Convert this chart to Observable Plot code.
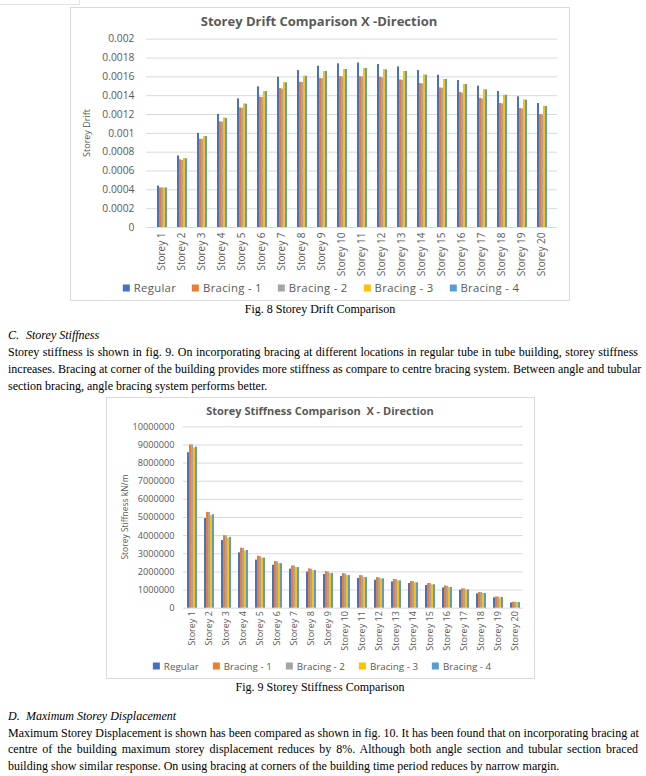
<!DOCTYPE html>
<html><head><meta charset="utf-8">
<script src="https://cdn.jsdelivr.net/npm/d3@7"></script>
<script src="https://cdn.jsdelivr.net/npm/@observablehq/plot@0.6"></script>
<style>
body{margin:0;background:#fff;width:646px;height:776px;position:relative;overflow:hidden;font-family:"Open Sans",sans-serif;}
.box{position:absolute;border:1px solid #d9d9d9;box-sizing:border-box;}
.title{position:absolute;font-weight:bold;color:#595959;font-size:11px;white-space:nowrap;transform:translate(-50%,-50%);}
.ylab{position:absolute;color:#595959;font-size:9px;white-space:nowrap;transform:translate(-50%,-50%) rotate(-90deg);}
.legend{position:absolute;display:flex;gap:16px;transform:translate(-50%,-50%);color:#595959;font-size:11px;white-space:nowrap;align-items:center;}
.legend .sw{display:inline-block;width:7px;height:7px;margin-right:4px;}
.cap{position:absolute;font-family:"Liberation Serif",serif;font-size:12px;white-space:nowrap;transform:translate(-50%,-50%);}
.para{position:absolute;left:8px;width:630px;font-family:"Liberation Serif",serif;font-size:12px;color:#000;}
.para div{text-align:justify;text-align-last:justify;white-space:nowrap;}
.para div.last{text-align-last:left;}
.plot{position:absolute;}
</style></head>
<body>
<div class="box" style="left:-2px;top:-10px;width:82px;height:15px;border-color:#e3e3e3"></div>

<div class="box" style="left:70px;top:7px;width:500px;height:294px"></div>
<div class="title" style="left:319px;top:21px;font-size:13px">Storey Drift Comparison X -Direction</div>
<div class="ylab" style="left:86px;top:133px">Storey Drift</div>
<div id="c1grid" class="plot" style="left:70px;top:28px"></div>
<div id="c1bars" class="plot" style="left:70px;top:28px"></div>
<div id="leg1" class="legend" style="left:321px;top:287px;font-size:11.3px;letter-spacing:0.3px;gap:16px"></div>
<div class="cap" style="left:320px;top:309px">Fig. 8 Storey Drift Comparison</div>

<div class="para" style="top:327px;line-height:17px">
<div class="last"><i style="display:inline-block;width:18px">C.</i><i>Storey Stiffness</i></div>
<div>Storey stiffness is shown in fig. 9. On incorporating bracing at different locations in regular tube in tube building, storey stiffness</div>
<div>increases. Bracing at corner of the building provides more stiffness as compare to centre bracing system. Between angle and tubular</div>
<div class="last">section bracing, angle bracing system performs better.</div>
</div>

<div class="box" style="left:106px;top:397px;width:429px;height:282px"></div>
<div class="title" style="left:320px;top:410px">Storey Stiffness Comparison&nbsp; X - Direction</div>
<div class="ylab" style="left:124px;top:517px;font-size:8.5px">Storey Stiffness kN/m</div>
<div id="c2grid" class="plot" style="left:106px;top:418px"></div>
<div id="c2bars" class="plot" style="left:106px;top:418px"></div>
<div id="leg2" class="legend" style="left:322px;top:666px;font-size:9.8px;gap:14px"></div>
<div class="cap" style="left:320px;top:687px">Fig. 9 Storey Stiffness Comparison</div>

<div class="para" style="top:708px;line-height:16.7px">
<div class="last"><i style="display:inline-block;width:18px">D.</i><i>Maximum Storey Displacement</i></div>
<div>Maximum Storey Displacement is shown has been compared as shown in fig. 10. It has been found that on incorporating bracing at</div>
<div>centre of the building maximum storey displacement reduces by 8%. Although both angle section and tubular section braced</div>
<div class="last">building show similar response. On using bracing at corners of the building time period reduces by narrow margin.</div>
</div>

<script>
const storeys = ["Storey 1","Storey 2","Storey 3","Storey 4","Storey 5","Storey 6","Storey 7","Storey 8","Storey 9","Storey 10","Storey 11","Storey 12","Storey 13","Storey 14","Storey 15","Storey 16","Storey 17","Storey 18","Storey 19","Storey 20"];
const series = ["Regular","Bracing - 1","Bracing - 2","Bracing - 3","Bracing - 4"];
const colors = ["#4472C4","#ED7D31","#A5A5A5","#FFC000","#5B9BD5"];

// Fig. 8 storey drift
const driftRegular = [0.00044,0.00076,0.001,0.0012,0.001366,0.001494,0.001596,0.001667,0.001713,0.001738,0.001747,0.001731,0.001706,0.001667,0.001618,0.001561,0.001501,0.001444,0.001388,0.001317];
const driftB1 = [0.00042,0.00072,0.000938,0.001122,0.00127,0.001384,0.001476,0.001543,0.001582,0.001603,0.001603,0.001596,0.001568,0.001529,0.001483,0.001434,0.001373,0.001317,0.001264,0.0012];
const driftB2 = [0.00042,0.000713,0.000935,0.00112,0.001267,0.00138,0.00147,0.00154,0.00158,0.0016,0.0016,0.00159,0.001565,0.001526,0.00148,0.001427,0.001366,0.001313,0.00126,0.001196];
const driftB3 = [0.00042,0.000733,0.000966,0.001165,0.001313,0.001444,0.00154,0.001607,0.001657,0.001678,0.001688,0.001678,0.001657,0.001621,0.001572,0.001519,0.001465,0.001405,0.001356,0.001288];
const driftB4 = [0.00042,0.00073,0.000966,0.001158,0.00131,0.001444,0.001536,0.001607,0.001657,0.001678,0.001688,0.001674,0.001657,0.001618,0.001572,0.001519,0.001462,0.001405,0.001352,0.001285];
const driftTicks = [0,0.0002,0.0004,0.0006,0.0008,0.001,0.0012,0.0014,0.0016,0.0018,0.002];

// Fig. 9 storey stiffness (kN/m)
const stiffRegular = [8570000,4940000,3730000,3050000,2650000,2370000,2150000,1990000,1860000,1750000,1640000,1540000,1450000,1360000,1250000,1120000,990000,790000,570000,290000];
const stiffB1 = [9000000,5280000,4000000,3310000,2870000,2570000,2330000,2170000,2020000,1910000,1800000,1690000,1580000,1470000,1360000,1230000,1070000,860000,620000,330000];
const stiffB2 = [9000000,5280000,3990000,3300000,2850000,2560000,2330000,2150000,2000000,1890000,1790000,1670000,1580000,1470000,1360000,1210000,1070000,860000,620000,330000];
const stiffB3 = [8840000,5110000,3860000,3160000,2760000,2460000,2240000,2060000,1910000,1800000,1690000,1620000,1510000,1400000,1290000,1140000,1010000,810000,570000,310000];
const stiffB4 = [8880000,5150000,3900000,3180000,2760000,2460000,2240000,2080000,1910000,1800000,1690000,1620000,1510000,1400000,1290000,1140000,1010000,810000,590000,310000];
const stiffTicks = [0,1000000,2000000,3000000,4000000,5000000,6000000,7000000,8000000,9000000,10000000];

function toRows(arrays){
  const rows=[];
  storeys.forEach((s,i)=>arrays.forEach((a,j)=>rows.push({storey:s,series:series[j],value:a[i]})));
  return rows;
}
const driftRows = toRows([driftRegular,driftB1,driftB2,driftB3,driftB4]);
const stiffRows = toRows([stiffRegular,stiffB1,stiffB2,stiffB3,stiffB4]);

function gridPlot(o){
  return Plot.plot({
    width:o.width,height:o.height,marginTop:o.mt,marginBottom:o.mb,marginLeft:o.ml,marginRight:o.mr,
    style:{background:"transparent",fontFamily:"Open Sans",fontSize:o.fs,color:"#595959"},
    x:{axis:null,domain:[0,1]},
    y:{domain:[0,o.ticks[o.ticks.length-1]],axis:null},
    marks:[
      Plot.ruleY(o.ticks,{stroke:"#d9d9d9",strokeWidth:1}),
      Plot.axisY({ticks:o.ticks,tickFormat:o.format,tickSize:0,tickPadding:o.tp,label:null})
    ]
  });
}
function barPlot(o){
  return Plot.plot({
    width:o.width,height:o.height,marginTop:o.mt,marginBottom:o.mb,marginLeft:o.ml,marginRight:o.mr,
    style:{background:"transparent",fontFamily:"Open Sans",fontSize:o.fs,color:"#595959"},
    fx:{domain:storeys,paddingInner:o.pi,paddingOuter:o.pi/2,label:null,axis:"bottom",tickSize:0,tickRotate:-90,tickPadding:o.ftp},
    x:{domain:series,axis:null,padding:0.08},
    y:{domain:[0,o.ticks[o.ticks.length-1]],axis:null},
    color:{domain:series,range:colors},
    marks:[Plot.barY(o.data,{fx:"storey",x:"series",y:"value",fill:"series"})]
  });
}
const fmt1 = d => String(+d.toFixed(4));
const c1 = {width:500,height:250,mt:10.7,mb:51,ml:76,mr:13,ticks:driftTicks,format:fmt1,fs:"10.3px",tp:12,data:driftRows,pi:0.25,ftp:5};
document.getElementById("c1grid").append(gridPlot(c1));
document.getElementById("c1bars").append(barPlot({...c1,fs:"10px"}));
const c2 = {width:429,height:240,mt:8.3,mb:50.3,ml:77,mr:12,ticks:stiffTicks,format:d3.format("d"),fs:"9.2px",tp:9,data:stiffRows,pi:0.2,ftp:3};
document.getElementById("c2grid").append(gridPlot(c2));
document.getElementById("c2bars").append(barPlot({...c2,fs:"9px"}));

function legend(id){
  const el=document.getElementById(id);
  series.forEach((s,i)=>{
    const it=document.createElement("div");
    it.innerHTML=`<span class="sw" style="background:${colors[i]}"></span>${s}`;
    el.append(it);
  });
}
legend("leg1"); legend("leg2");
</script>
</body></html>
